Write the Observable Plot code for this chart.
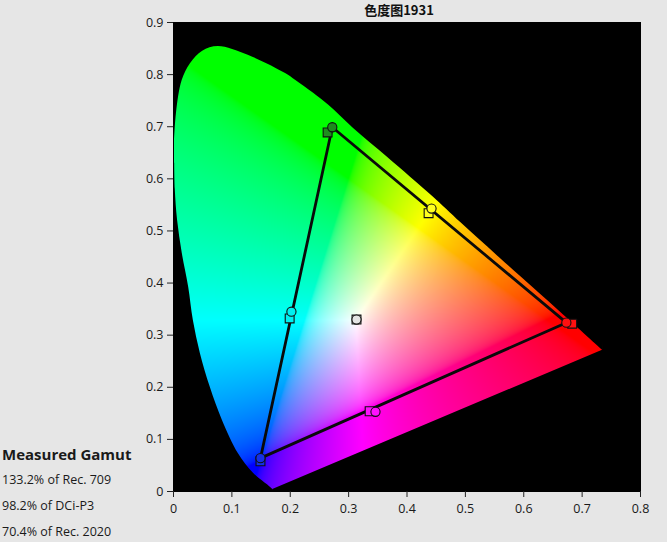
<!DOCTYPE html>
<html><head><meta charset="utf-8">
<script src="https://cdn.jsdelivr.net/npm/d3@7"></script>
<script src="https://cdn.jsdelivr.net/npm/@observablehq/plot@0.6"></script>
<style>
html,body{margin:0;padding:0;background:#e6e6e6;width:667px;height:542px;overflow:hidden;}
#chart{position:absolute;left:0;top:0;}
#gamut{position:absolute;left:2px;top:441px;font-family:"Open Sans","Noto Sans",sans-serif;font-size:12.5px;color:#1a1a1a;line-height:26px;}
#gamut .h{font-weight:bold;font-size:15px;}
</style></head><body>
<div id="chart"></div>
<div id="gamut"></div>
<script>
// ---- data ----
const title = "色度图1931";
const xTicks = [0,0.1,0.2,0.3,0.4,0.5,0.6,0.7,0.8];
const yTicks = [0,0.1,0.2,0.3,0.4,0.5,0.6,0.7,0.8,0.9];
// spectral locus boundary as drawn: left edge (bottom -> up), top edge (left -> red corner), purple line
const leftEdgeX = [0.172,0.170,0.137,0.111,0.084,0.063,0.046,0.034,0.026,0.015,0.007,0.003,0.002];
const leftEdgeY = [0.000,0.004,0.035,0.073,0.136,0.200,0.265,0.328,0.392,0.457,0.520,0.580,0.630];
const topEdgeX = [0.000,0.005,0.015,0.029,0.050,0.077,0.128,0.192,0.209,0.240,0.266,0.308,0.367,0.444,0.492,0.560,0.663,0.735];
const topEdgeY = [0.630,0.725,0.789,0.821,0.845,0.854,0.837,0.802,0.789,0.764,0.741,0.697,0.641,0.566,0.516,0.447,0.344,0.271];
const purpleLineX = [0.170,0.735];
const purpleLineY = [0.004,0.271];
const names = ["Red","Green","Blue","Cyan","Magenta","Yellow","White"];
const targetX = [0.683,0.264,0.149,0.199,0.336,0.437,0.3135];
const targetY = [0.322,0.689,0.058,0.332,0.154,0.534,0.330];
const measuredX = [0.673,0.272,0.149,0.202,0.346,0.442,0.3135];
const measuredY = [0.324,0.699,0.064,0.345,0.153,0.543,0.330];
const markerFill = ["#ff1010","#1e8c1e","#1430e6","#00f0f0","#ff10ff","#ffff20","#e4e4e4"];
const triangleOrder = ["Red","Green","Blue","Red"];
const gamutTitle = "Measured Gamut";
const gamutLines = ["133.2% of Rec. 709","98.2% of DCi-P3","70.4% of Rec. 2020"];

// ---- build ----
const X0 = 0, X1 = 0.8, Y0 = 0, Y1 = 0.9;
const xMax = d3.max(topEdgeX);
const leftEdge = leftEdgeX.map((x, i) => ({x, y: leftEdgeY[i]}));
const topEdge = topEdgeX.map((x, i) => ({x, y: topEdgeY[i]}));
// region below the purple line, and everything right of the red corner
const bottomMask = [
  {x: purpleLineX[0], y: purpleLineY[0]},
  {x: purpleLineX[1], y: purpleLineY[1]},
  {x: purpleLineX[1] - 0.003, y: Y1},
  {x: X1, y: Y1}
];
const targets = names.map((n, i) => ({name: n, x: targetX[i], y: targetY[i], fill: markerFill[i]}));
const measured = names.map((n, i) => ({name: n, x: measuredX[i], y: measuredY[i], fill: markerFill[i]}));
const tri = triangleOrder.map(n => measured.find(d => d.name === n));

function gam(c) { return c <= 0.0031308 ? 12.92 * c : 1.055 * Math.pow(c, 1 / 2.4) - 0.055; }
function chroma(x, y) {
  if (y <= 0.002 || x > xMax + 0.001 || y > 0.87) return "#000000";
  const X = x / y, Z = (1 - x - y) / y;
  let r = 3.2406 * X - 1.5372 - 0.4986 * Z;
  let g = -0.9689 * X + 1.8758 + 0.0415 * Z;
  let b = 0.0557 * X - 0.2040 + 1.0570 * Z;
  r = Math.max(0, r); g = Math.max(0, g); b = Math.max(0, b);
  const m = Math.max(r, g, b) || 1;
  const R = Math.round(255 * gam(r / m)), G = Math.round(255 * gam(g / m)), B = Math.round(255 * gam(b / m));
  return `rgb(${R},${G},${B})`;
}

const fmt = d => d === 0 ? "0" : d.toFixed(1);

const chart = Plot.plot({
  width: 667, height: 542,
  marginLeft: 173, marginRight: 27, marginTop: 22, marginBottom: 51,
  x: {domain: [X0, X1]},
  y: {domain: [Y0, Y1]},
  color: {type: "identity"},
  style: {background: "transparent", fontFamily: "'Open Sans','Noto Sans',sans-serif", fontSize: "12.5px", color: "#1a1a1a"},
  marks: [
    Plot.frame({fill: "black", stroke: "black"}),
    Plot.raster({x1: X0, x2: X1, y1: Y0, y2: Y1, fill: chroma, pixelSize: 1}),
    // black masks outside the locus (smooth, antialiased edges)
    Plot.areaX(leftEdge, {y: "y", x1: X0, x2: "x", curve: "catmull-rom", fill: "black"}),
    Plot.areaY(topEdge, {x: "x", y1: "y", y2: Y1, curve: "catmull-rom", fill: "black"}),
    Plot.areaY(bottomMask, {x: "x", y1: Y0, y2: "y", curve: "linear", fill: "black"}),
    Plot.frame({stroke: "black"}),
    Plot.axisX({ticks: xTicks, tickFormat: fmt, tickSize: 6, tickPadding: 7, label: null, stroke: "#222"}),
    Plot.axisY({ticks: yTicks, tickFormat: fmt, tickSize: 6, tickPadding: 4, label: null, stroke: "#222"}),
    Plot.line(tri, {x: "x", y: "y", stroke: "#0a0a0a", strokeWidth: 2.8}),
    Plot.dot(targets, {x: "x", y: "y", symbol: "square", r: 5, fill: "fill", stroke: "#111", strokeWidth: 1.1}),
    Plot.dot(measured, {x: "x", y: "y", symbol: "circle", r: 4.6, fill: "fill", stroke: "#111", strokeWidth: 1.1}),
    Plot.text([title], {text: d => d, frameAnchor: "top", dx: -8, dy: -12, lineAnchor: "middle", fontWeight: "bold", fontSize: 13, fontFamily: "'Noto Sans CJK SC','Open Sans',sans-serif", fill: "#111"})
  ]
});
document.getElementById("chart").appendChild(chart);

const g = document.getElementById("gamut");
const h = document.createElement("div"); h.className = "h"; h.textContent = gamutTitle; g.appendChild(h);
for (const t of gamutLines) { const d = document.createElement("div"); d.textContent = t; g.appendChild(d); }
</script>
</body></html>
